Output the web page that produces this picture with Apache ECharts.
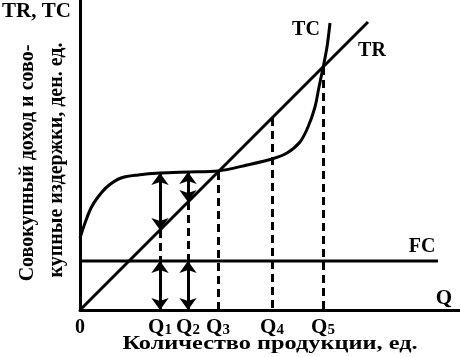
<!DOCTYPE html>
<html>
<head>
<meta charset="utf-8">
<script src="https://cdn.jsdelivr.net/npm/echarts@6/dist/echarts.min.js"></script>
<style>html,body{margin:0;padding:0;background:#fff;}#c{width:460px;height:357px;}</style>
</head>
<body>
<div id="c"></div>
<script>
// Data (arbitrary units; Q and money on same scale)
var qNames = ['0', 'Q1', 'Q2', 'Q3', 'Q4', 'Q5'];
var qValues = [0, 80, 108, 138, 192, 243];
var tcCurve = [[0,72],[5,87],[11,102],[18,113],[28,124],[41,132],[58,135],[80,137],[108,138],[138,139],[167,145],[192,151],[207,157],[220,168],[228,183],[235,203],[239,223],[243,242],[247,263],[250,287]];
var trLine = [[0,0],[288,288]];
var fcLevel = 49;
var fcEnd = 358;
var tcAtQ1 = 137, tcAtQ2 = 138;
var xTitle = 'Количество продукции, ед.';
var yTitle = ['Совокупный доход и сово-', 'купные издержки, ден. ед.'];

var FONT = 'Liberation Serif';
var chart = echarts.init(document.getElementById('c'));

function seg(x, y0, y1){ return [{coord:[x,y0]},{coord:[x,y1]}]; }

var option = {
  animation: false,
  backgroundColor: '#fff',
  grid: {left: 80, right: 0, top: 0, bottom: 47, containLabel: false, outerBoundsMode: 'none'},
  xAxis: {
    type: 'value', min: 0, max: 380,
    splitLine: {show: false},
    axisTick: {show: false},
    axisLine: {show: true, onZero: false, lineStyle: {color: '#000', width: 3}},
    axisLabel: {
      show: true, customValues: qValues, margin: 6,
      formatter: function(v){
        var i = qValues.indexOf(v);
        var n = qNames[i];
        if (n === '0') return '{z|0}';
        return '{q|Q}{s|' + n.slice(1) + '}';
      },
      rich: {
        z: {fontFamily: FONT, fontWeight: 'bold', fontSize: 20, color: '#000', lineHeight: 22, verticalAlign: 'bottom'},
        q: {fontFamily: FONT, fontWeight: 'bold', fontSize: 21, color: '#000', lineHeight: 22, verticalAlign: 'bottom'},
        s: {fontFamily: FONT, fontWeight: 'bold', fontSize: 15, color: '#000', lineHeight: 12, verticalAlign: 'bottom'}
      }
    }
  },
  yAxis: {
    type: 'value', min: 0, max: 310,
    splitLine: {show: false},
    axisTick: {show: false},
    axisLabel: {show: false},
    axisLine: {show: true, onZero: false, lineStyle: {color: '#000', width: 3}}
  },
  series: [
    {
      name: 'TR', type: 'line', data: trLine, symbol: 'none', silent: true,
      lineStyle: {color: '#000', width: 3}
    },
    {
      name: 'TC', type: 'line', data: tcCurve, symbol: 'none', silent: true,
      smooth: 0.3,
      lineStyle: {color: '#000', width: 3}
    },
    {
      name: 'FC', type: 'line', data: [[0, fcLevel],[fcEnd, fcLevel]], symbol: 'none', silent: true,
      lineStyle: {color: '#000', width: 3},
      markLine: {
        silent: true, symbol: ['none','none'], label: {show: false},
        lineStyle: {color: '#000', width: 3, type: [8,5]},
        data: [
          seg(qValues[1], qValues[1], fcLevel),
          seg(qValues[2], qValues[2], fcLevel),
          seg(qValues[3], qValues[3], 0),
          seg(qValues[4], qValues[4], 0),
          seg(qValues[5], qValues[5], 0)
        ]
      }
    },
    {
      name: 'arrows', type: 'line', data: [], symbol: 'none', silent: true,
      markLine: {
        silent: true, symbol: ['arrow','arrow'], symbolSize: [13, 12], label: {show: false},
        lineStyle: {color: '#000', width: 3, type: 'solid'},
        data: [
          seg(qValues[1], tcAtQ1, qValues[1]),
          seg(qValues[2], tcAtQ2, qValues[2]),
          seg(qValues[1], fcLevel, 0),
          seg(qValues[2], fcLevel, 0)
        ]
      }
    }
  ],
  graphic: [
    {type:'text', x: 2, y: 1, style:{text:'TR, TC', fontFamily: FONT, fontWeight:'bold', fontSize: 21, fill:'#000', textAlign:'left', textVerticalAlign:'top'}},
    {type:'text', x: 306, y: 30, style:{text:'TC', fontFamily: FONT, fontWeight:'bold', fontSize: 20, fill:'#000', textAlign:'center', textVerticalAlign:'middle'}},
    {type:'text', x: 372, y: 51, style:{text:'TR', fontFamily: FONT, fontWeight:'bold', fontSize: 20, fill:'#000', textAlign:'center', textVerticalAlign:'middle'}},
    {type:'text', x: 422, y: 247, style:{text:'FC', fontFamily: FONT, fontWeight:'bold', fontSize: 20, fill:'#000', textAlign:'center', textVerticalAlign:'middle'}},
    {type:'text', x: 444, y: 299, style:{text:'Q', fontFamily: FONT, fontWeight:'bold', fontSize: 21, fill:'#000', textAlign:'center', textVerticalAlign:'middle'}},
    {type:'text', x: 270, y: 344, scaleX: 1.28, style:{text: xTitle, fontFamily: FONT, fontWeight:'bold', fontSize: 19, fill:'#000', textAlign:'center', textVerticalAlign:'middle'}},
    {type:'text', x: 28, y: 163, rotation: Math.PI/2, style:{text: yTitle[0], fontFamily: FONT, fontWeight:'bold', fontSize: 20, fill:'#000', textAlign:'center', textVerticalAlign:'middle'}},
    {type:'text', x: 57, y: 160, rotation: Math.PI/2, style:{text: yTitle[1], fontFamily: FONT, fontWeight:'bold', fontSize: 20, fill:'#000', textAlign:'center', textVerticalAlign:'middle'}}
  ]
};
chart.setOption(option);
</script>
</body>
</html>
